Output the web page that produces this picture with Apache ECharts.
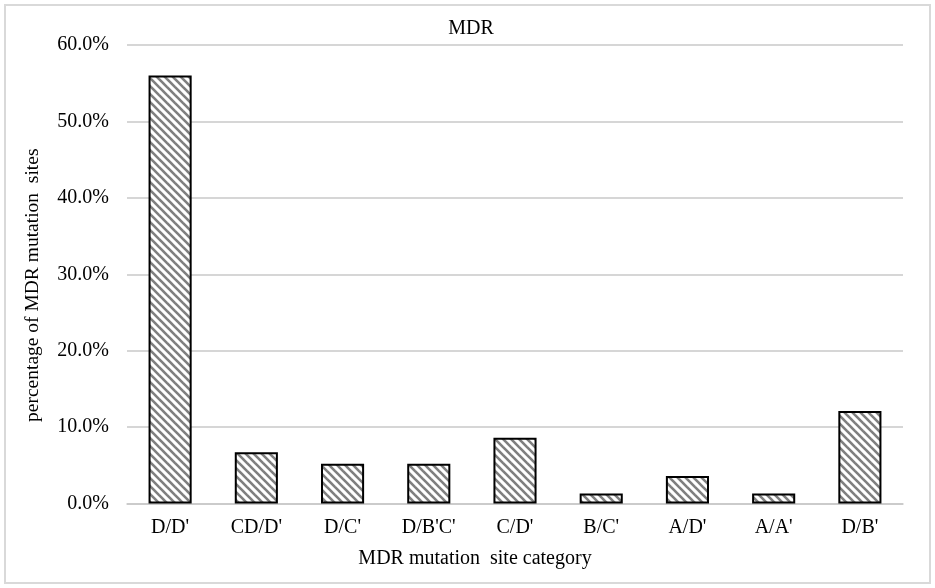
<!DOCTYPE html>
<html><head><meta charset="utf-8">
<script src="https://cdn.jsdelivr.net/npm/echarts@6/dist/echarts.min.js"></script>
<style>html,body{margin:0;padding:0;background:#fff}#c{width:935px;height:588px}</style>
</head><body><div id="c"></div>
<script>
const categories = ["D/D'", "CD/D'", "D/C'", "D/B'C'", "C/D'", "B/C'", "A/D'", "A/A'", "D/B'"];
const values = [56.0, 6.7, 5.2, 5.2, 8.6, 1.3, 3.6, 1.3, 12.1];
const yTicks = [0, 10, 20, 30, 40, 50, 60];

function makePattern() {
  const s = 8;
  const cv = document.createElement('canvas');
  cv.width = s; cv.height = s;
  const ctx = cv.getContext('2d');
  ctx.fillStyle = '#ffffff';
  ctx.fillRect(0, 0, s, s);
  ctx.strokeStyle = '#7f7f7f';
  ctx.lineWidth = 2.6;
  for (const off of [-s, 0, s]) {
    ctx.beginPath();
    ctx.moveTo(off - 1, -1);
    ctx.lineTo(off + s + 1, s + 1);
    ctx.stroke();
  }
  return cv;
}

const font = "'Liberation Serif', 'Times New Roman', serif";
const chart = echarts.init(document.getElementById('c'));
chart.setOption({
  animation: false,
  backgroundColor: '#ffffff',
  textStyle: { fontFamily: font },
  title: {
    text: 'MDR', left: 466, top: 14, textAlign: 'center',
    textStyle: { fontFamily: font, fontSize: 20, fontWeight: 'normal', color: '#000' }
  },
  graphic: [{
    type: 'rect', shape: { x: 5, y: 5, width: 925, height: 578 },
    style: { fill: 'none', stroke: '#d9d9d9', lineWidth: 2 }, silent: true
  }],
  grid: { left: 127, right: 32, top: 45, bottom: 84.5 },
  xAxis: {
    type: 'category', data: categories,
    name: 'MDR mutation  site category', nameLocation: 'middle', nameGap: 45,
    nameTextStyle: { fontFamily: font, fontSize: 20, color: '#000', padding: [0, 80, 0, 0] },
    axisLine: { show: true, lineStyle: { color: '#c8c8c8', width: 1.5 } },
    axisTick: { show: false },
    axisLabel: { fontFamily: font, fontSize: 20, color: '#000', margin: 14 }
  },
  yAxis: {
    type: 'value', min: 0, max: 60, interval: 10,
    name: 'percentage of MDR mutation  sites', nameLocation: 'middle', nameGap: 84,
    nameTextStyle: { fontFamily: font, fontSize: 19.5, color: '#000', padding: [0, 22, 0, 0] },
    axisLine: { show: false }, axisTick: { show: false },
    splitLine: { lineStyle: { color: '#c8c8c8', width: 1.5 } },
    axisLabel: {
      fontFamily: font, fontSize: 20, color: '#000', margin: 18,
      formatter: v => yTicks.includes(v) ? v.toFixed(1) + '%' : ''
    }
  },
  series: [{
    type: 'bar', data: values, barWidth: '50%',
    itemStyle: {
      color: { image: makePattern(), repeat: 'repeat' },
      borderColor: '#000', borderWidth: 2
    }
  }]
});
</script></body></html>
